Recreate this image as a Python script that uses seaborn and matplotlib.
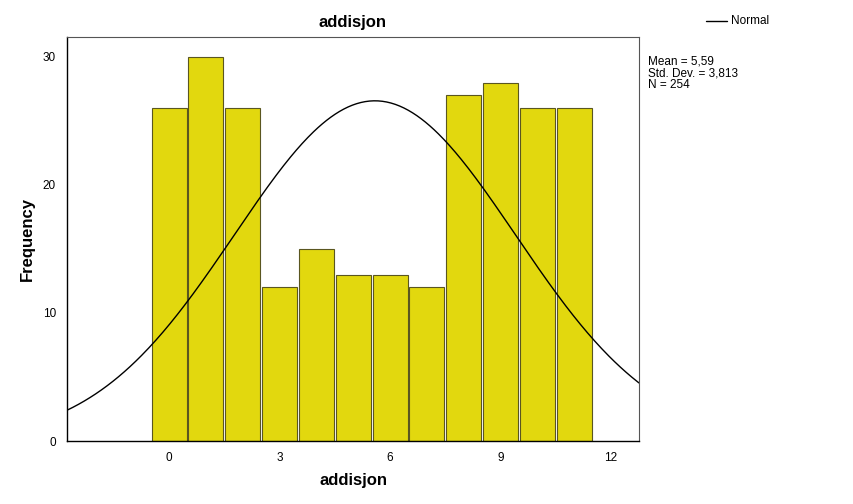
import numpy as np
import matplotlib
matplotlib.use("Agg")
import matplotlib.pyplot as plt
import seaborn as sns
from matplotlib.lines import Line2D

# Data
values = [0, 1, 2, 3, 4, 5, 6, 7, 8, 9, 10, 11]
counts = [26, 30, 26, 12, 15, 13, 13, 12, 27, 28, 26, 26]
mean_val = 5.59
std_val = 3.813
n_val = 254
xticks = [0, 3, 6, 9, 12]
yticks = [0, 10, 20, 30]

sns.set_style("white")
plt.rcParams['font.family'] = ['Liberation Sans', 'DejaVu Sans']
plt.rcParams['text.color'] = 'black'
plt.rcParams['axes.labelcolor'] = 'black'
plt.rcParams['xtick.color'] = 'black'
plt.rcParams['ytick.color'] = 'black'

fig = plt.figure(figsize=(8.54, 5.04), dpi=100)
ax = fig.add_axes([67/854, 1-441/504, (639-67)/854, (441-37)/504])

sns.histplot(x=values, weights=counts, discrete=True, shrink=0.95,
             color="#E2D80E", edgecolor="#5a5620", linewidth=0.8,
             alpha=1.0, ax=ax)

xs = np.linspace(-2.77, 12.76, 400)
pdf = n_val * 1.0 / (std_val * np.sqrt(2*np.pi)) * np.exp(-0.5*((xs-mean_val)/std_val)**2)
sns.lineplot(x=xs, y=pdf, color="black", linewidth=1.0, ax=ax)

ax.set_xlim(-2.77, 12.76)
ax.set_ylim(0, 31.56)
ax.set_xticks(xticks)
ax.set_yticks(yticks)
ax.tick_params(axis='both', length=0, labelsize=8.5, pad=8)
ax.set_xlabel("addisjon", fontsize=12, fontweight='bold')
ax.set_ylabel("Frequency", fontsize=12, fontweight='bold')
ax.xaxis.set_label_coords((354-67)/572, -(481-441)/404)
ax.yaxis.set_label_coords((27-67)/572, 0.5)
ax.xaxis.label.set_va('center')
ax.yaxis.label.set_va('center')
ax.set_title("addisjon", fontsize=12, fontweight='bold', pad=7)

for s in ['left', 'bottom']:
    ax.spines[s].set_color('black')
    ax.spines[s].set_linewidth(1.0)
for s in ['top', 'right']:
    ax.spines[s].set_color('#555555')
    ax.spines[s].set_linewidth(0.8)

fig.add_artist(Line2D([706/854, 727/854], [1-21/504, 1-21/504], color='black', linewidth=1.0))
fig.text(731/854, 1-21/504, "Normal", fontsize=8.5, va='center', ha='left')
fig.text(648/854, 1-55/504, f"Mean = 5,59\nStd. Dev. = 3,813\nN = {n_val}",
         fontsize=8.5, va='top', ha='left', linespacing=1.0)

fig.savefig("out.png", dpi=100)
